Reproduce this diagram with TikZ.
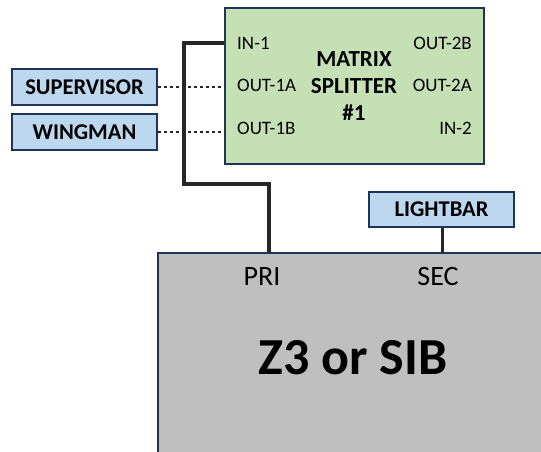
\documentclass[tikz,border=0pt]{standalone}
\usepackage{fontspec}
\setmainfont{Carlito}
\definecolor{navy}{HTML}{1F3456}
\definecolor{greenfill}{HTML}{C5E0B4}
\definecolor{bluefill}{HTML}{BDD7EE}
\definecolor{grayfill}{HTML}{BFBFBF}
\definecolor{wire}{HTML}{262626}
\begin{document}
\begin{tikzpicture}[x=1pt,y=-1pt,
  box/.style={draw=navy,line width=2pt,inner sep=0pt,anchor=north west},
  tag/.style={box,fill=bluefill,font=\bfseries\fontsize{22.5}{24}\selectfont},
  port/.style={font=\fontsize{19}{20}\selectfont,inner sep=0pt},
  cable/.style={draw=wire,line width=3.5pt},
  dots/.style={draw=wire,line width=2.8pt,dash pattern=on 3pt off 3pt}]
\useasboundingbox (0,0) rectangle (541,451);
\begin{scope}
\clip (0,0) rectangle (541,451);
\node[box,fill=grayfill,minimum width=400pt,minimum height=220pt] (zbox) at (157,252) {};
\end{scope}
\node[box,fill=greenfill,minimum width=259pt,minimum height=156pt] (mx) at (224,7) {};
\node[tag,minimum width=145pt,minimum height=36pt] (sup) at (11,68) {SUPERVISOR};
\node[tag,minimum width=145pt,minimum height=36pt] (wing) at (11,113) {WINGMAN};
\node[tag,minimum width=145pt,minimum height=35pt] (lb) at (368,191) {LIGHTBAR};
% ports
\node[port,anchor=west] (in1) at (237,43) {IN-1};
\node[port,anchor=west] (o1a) at (237,85) {OUT-1A};
\node[port,anchor=west] (o1b) at (237,128) {OUT-1B};
\node[port,anchor=east] (o2b) at (472,43) {OUT-2B};
\node[port,anchor=east] (o2a) at (472,85) {OUT-2A};
\node[port,anchor=east] (in2) at (472,128) {IN-2};
\node[font=\bfseries\fontsize{23}{27}\selectfont,align=center,inner sep=0pt] (mxt) at (354,86) {MATRIX\\SPLITTER\\\#1};
\node[font=\fontsize{28}{30}\selectfont,inner sep=0pt] (pri) at (262,277) {PRI};
\node[font=\fontsize{28}{30}\selectfont,inner sep=0pt] (sec) at (438,277) {SEC};
\node[font=\bfseries\fontsize{52}{56}\selectfont,inner sep=0pt] (z3) at (353,358) {Z3 or SIB};
% connectors
\coordinate (prit) at (269,252);
\coordinate (sect) at (442,252);
\draw[dots] (sup.east) -- (sup.east -| mx.west);
\draw[dots] (wing.east) -- (wing.east -| mx.west);
\draw[cable] (mx.west |- in1) -- (184,43) -- (184,184) -- (269,184) -- (prit);
\draw[cable,line width=3pt] (lb.south -| sect) -- (sect);
\end{tikzpicture}
\end{document}
